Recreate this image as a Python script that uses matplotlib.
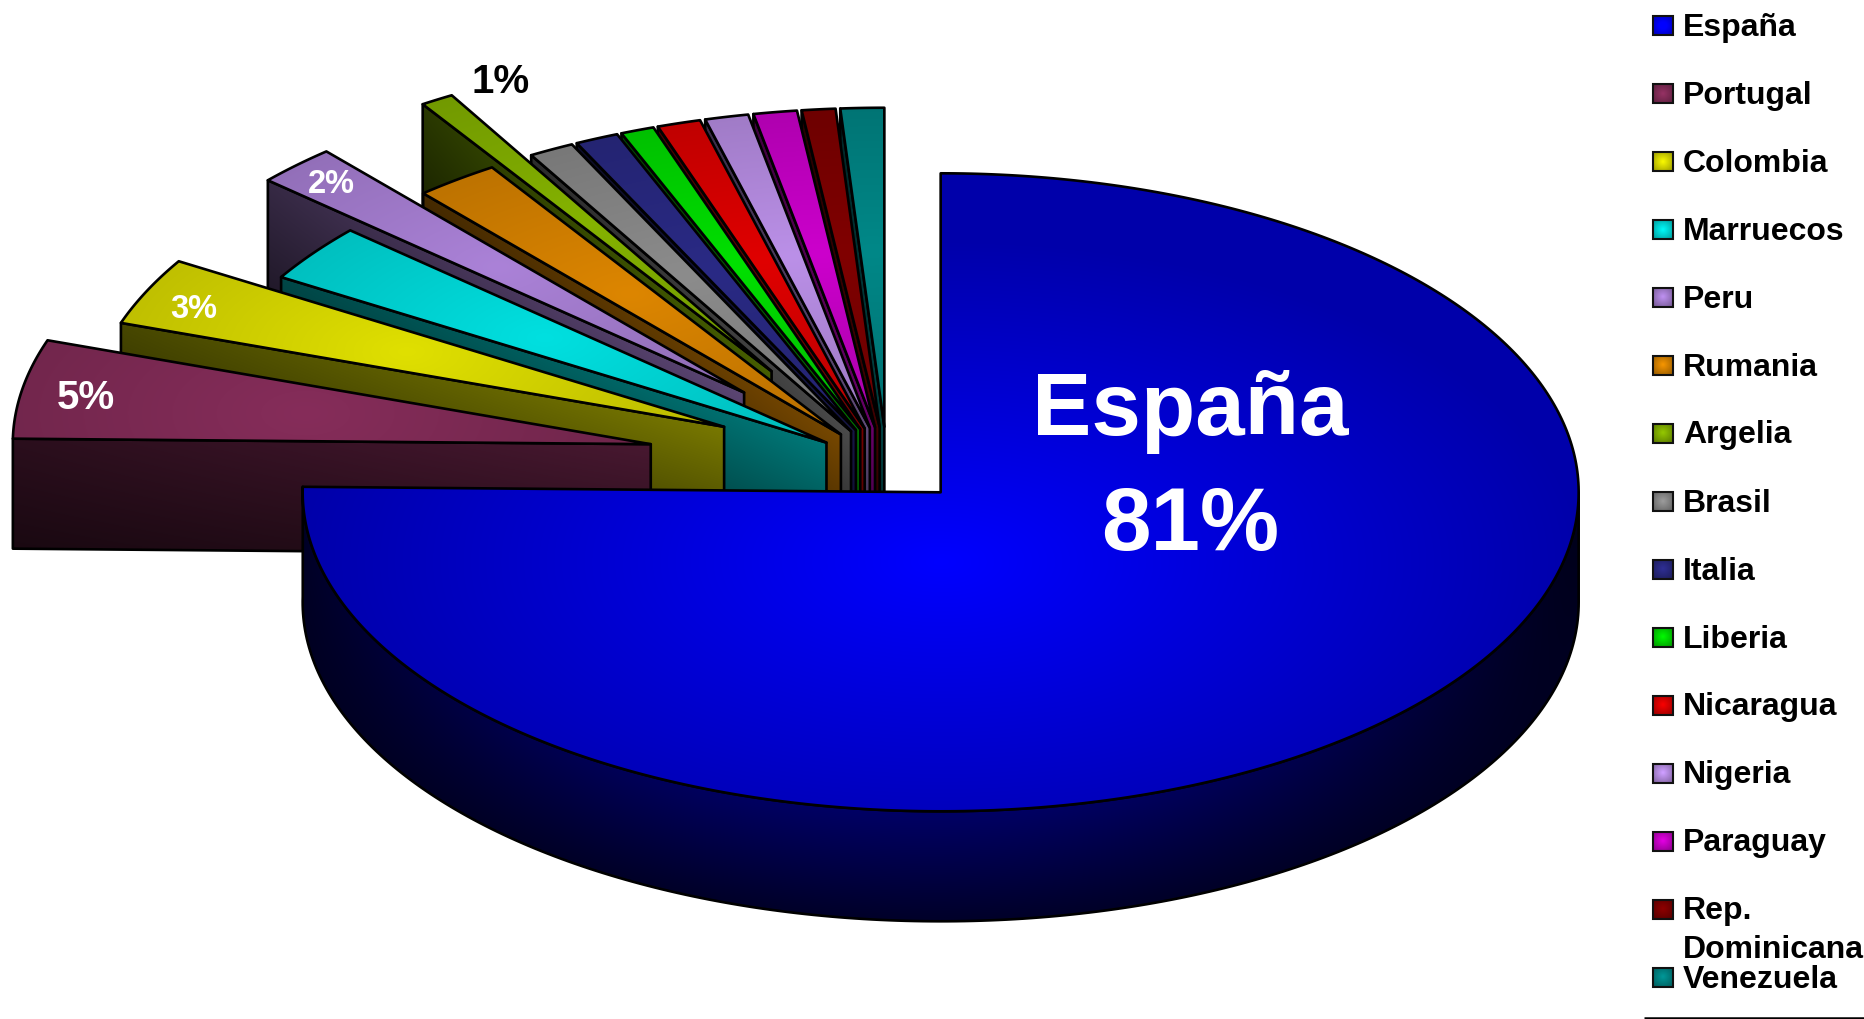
import numpy as np
import matplotlib
matplotlib.use("Agg")
import matplotlib.pyplot as plt
from matplotlib.patches import Polygon, Rectangle

# ---- data ----
countries = ["España", "Portugal", "Colombia", "Marruecos", "Peru", "Rumania", "Argelia",
             "Brasil", "Italia", "Liberia", "Nicaragua", "Nigeria", "Paraguay",
             "Rep.\nDominicana", "Venezuela"]
# slice sizes as drawn (percent of the full circle)
shares = [75.2, 5.0, 3.4, 2.9, 2.05, 2.15, 0.85, 1.15, 1.1, 0.85, 1.1, 1.1, 1.1, 0.85, 1.1]
slice_labels = ["España\n81%", "5%", "3%", "2%", "1%"]

# ---- style ----
explode = [0.12, 0.376, 0.282, 0.118, 0.319, 0.12, 0.345, 0.12, 0.12, 0.12, 0.12, 0.12, 0.12, 0.12, 0.12]
colors = ["#0000FF", "#862D5A", "#E0E000", "#00E0E0", "#AB82D8", "#DD8600", "#85B300", "#8C8C8C",
          "#2A2A85", "#00E000", "#E00000", "#BB90E8", "#CC00CC", "#800000", "#008888"]
label_base = [(1190, 435), (86, 409), (194, 318), (331.5, 193), (501, 93)]
label_size = [64, 29, 23.5, 23.5, 29]
label_color = ["white", "white", "white", "white", "black"]
label_line_step = 115

W, H = 1865, 1019
CX, CY = 887.0, 465.0
A, B = 638.0, 319.0
DEPTH = 110.0
LW = 1.9
FONT = "Liberation Sans"

fig = plt.figure(figsize=(W / 100, H / 100), dpi=100)
ax = fig.add_axes([0, 0, 1, 1])
ax.set_xlim(0, W)
ax.set_ylim(H, 0)
ax.axis("off")

rgb = lambda c: np.array(matplotlib.colors.to_rgb(c))
z = [10]


def nextz():
    z[0] += 1
    return z[0]


def shaded(poly, func, color):
    """Fill a polygon with color * func(x, y), outlined in black."""
    poly = np.asarray(poly)
    x0, y0 = np.floor(poly.min(axis=0)) - 1
    x1, y1 = np.ceil(poly.max(axis=0)) + 1
    xs = np.arange(x0, x1 + 1)
    ys = np.arange(y0, y1 + 1)
    X, Y = np.meshgrid(xs, ys)
    f = np.clip(func(X, Y), 0, 1.2)
    img = np.clip(f[..., None] * rgb(color), 0, 1)
    zz = nextz()
    im = ax.imshow(img, extent=(x0 - .5, x1 + .5, y1 + .5, y0 - .5), aspect="auto",
                   interpolation="bilinear", zorder=zz)
    patch = Polygon(poly, closed=True, transform=ax.transData, facecolor="none", edgecolor="none")
    ax.add_patch(patch)
    im.set_clip_path(patch)
    ax.add_patch(Polygon(poly, closed=True, fill=False, edgecolor="black", lw=LW,
                         joinstyle="round", zorder=zz))


def pt(ax0, ay0, phi):
    return ax0 + A * np.sin(phi), ay0 - B * np.cos(phi)


total = sum(shares)
edges = np.radians(np.concatenate([[0], np.cumsum(shares)]) / total * 360)

# small slices, painted back to front
for i in range(len(shares) - 1, 0, -1):
    p0, p1 = edges[i], edges[i + 1]
    mid = (p0 + p1) / 2
    ax0, ay0 = pt(CX, CY, mid)
    ax0 = CX + explode[i] * (ax0 - CX)
    ay0 = CY + explode[i] * (ay0 - CY)
    ox, oy = pt(ax0, ay0, p0)
    # radial wall below the lower edge
    wall = [(ax0, ay0), (ox, oy), (ox, oy + DEPTH), (ax0, ay0 + DEPTH)]

    def wall_f(X, Y, ax0=ax0, ay0=ay0, ox=ox, oy=oy):
        s = np.clip((X - ox) / max(ax0 - ox, 1), 0, 1)
        ye = oy + (ay0 - oy) * s
        t = np.clip((Y - ye) / DEPTH, 0, 1)
        return (0.32 + 0.22 * s) * (1 - 0.40 * t)

    shaded(wall, wall_f, colors[i])
    # top face, brightest part-way along the bisector
    phis = np.linspace(p0, p1, 40)
    ax_, ay_ = pt(ax0, ay0, phis)
    top = [(ax0, ay0)] + list(zip(ax_, ay_))
    bx = ax0 + 0.55 * A * np.sin(mid)
    by = ay0 - 0.55 * B * np.cos(mid)

    def top_f(X, Y, bx=bx, by=by):
        d = np.hypot((X - bx) / A, (Y - by) / B)
        return 1 - 0.32 * np.clip(d, 0, 0.6)

    shaded(top, top_f, colors[i])

# the big slice
mid = (edges[0] + edges[1]) / 2
sx = CX + explode[0] * A * np.sin(mid)
sy = CY - explode[0] * B * np.cos(mid)
phis = np.linspace(np.pi / 2, edges[1], 240)
wx, wy = pt(sx, sy, phis)
side = list(zip(wx, wy)) + list(zip(wx[::-1], wy[::-1] + DEPTH))


def side_f(X, Y):
    u = np.clip((X - sx) / A, -1, 1)
    ye = sy + B * np.sqrt(1 - u ** 2)
    t = np.clip((Y - ye) / DEPTH, 0, 1)
    return 0.13 + (0.24 * (1 - t) + 0.03) * (1 - np.abs(u + 0.05) ** 2)


shaded(side, side_f, colors[0])
phis = np.linspace(edges[0], edges[1], 400)
tx, ty = pt(sx, sy, phis)
top = [(sx, sy)] + list(zip(tx, ty))


def spain_f(X, Y):
    d = np.hypot((X - sx) / A, (Y - (sy + 70)) / B)
    return 1 - 0.33 * np.clip(d, 0, 1)


shaded(top, spain_f, colors[0])

# slice labels
for txt, (lx, ly), fs, c in zip(slice_labels, label_base, label_size, label_color):
    for k, line in enumerate(txt.split("\n")):
        ax.text(lx, ly + k * label_line_step, line, color=c, fontsize=fs, fontweight="bold",
                family=FONT, ha="center", va="baseline", zorder=500)

# legend
LEG_TOP, LEG_STEP, LEG_LINE = 25, 68, 38
for i, (name, col) in enumerate(zip(countries, colors)):
    yc = LEG_TOP + LEG_STEP * i
    xs = np.linspace(-1, 1, 20)
    X, Y = np.meshgrid(xs, xs)
    f = 1.12 - 0.3 * np.hypot(X, Y)
    img = np.clip(f[..., None] * rgb(col), 0, 1)
    ax.imshow(img, extent=(1653, 1673, yc + 9.5, yc - 9.5), aspect="auto", zorder=400,
              interpolation="bilinear")
    ax.add_patch(Rectangle((1653, yc - 9.5), 20, 19, fill=False, edgecolor="#111111", lw=1.5, zorder=401))
    for k, line in enumerate(name.split("\n")):
        ax.text(1683, yc + 10.5 + k * LEG_LINE, line, fontsize=23, fontweight="bold", family=FONT,
                color="black", ha="left", va="baseline", zorder=402)

ax.plot([1644, W], [1017.5, 1017.5], color="black", lw=1.8, zorder=403, solid_capstyle="butt")
ax.set_xlim(0, W)
ax.set_ylim(H, 0)
fig.savefig("out.png", dpi=100, facecolor="white")
